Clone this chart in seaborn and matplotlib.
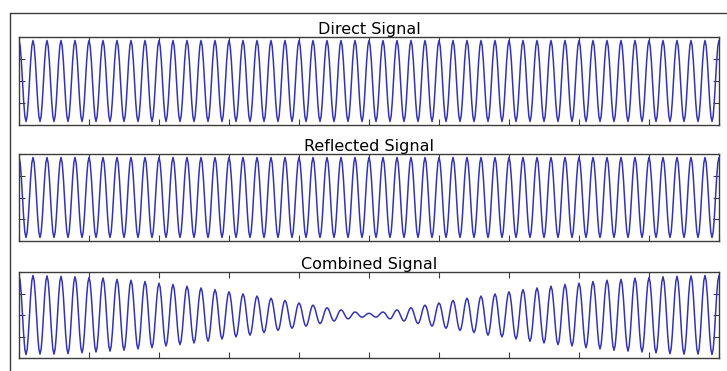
import numpy as np
import pandas as pd
import matplotlib
matplotlib.use("Agg")
import matplotlib.pyplot as plt
from matplotlib.lines import Line2D
import seaborn as sns

# titles of the three panels
titles = ["Direct Signal", "Reflected Signal", "Combined Signal"]

# number of carrier cycles across the window (peak at start and end)
n_cycles = 50

# peak / trough levels per cycle (axis range -1..1)
direct_peaks = [0.92] * (n_cycles + 1)
direct_troughs = [-0.92] * n_cycles
reflected_peaks = [0.92] * (n_cycles + 1)
reflected_troughs = [-0.92] * n_cycles

half_peaks = [0.92, 0.92, 0.91, 0.90, 0.89, 0.87, 0.86, 0.83, 0.81, 0.78, 0.74,
              0.71, 0.67, 0.63, 0.59, 0.54, 0.49, 0.44, 0.39, 0.34, 0.28, 0.23,
              0.17, 0.12, 0.07]
combined_peaks = half_peaks + [0.04] + half_peaks[::-1]
half_troughs = [-0.92, -0.91, -0.91, -0.90, -0.88, -0.86, -0.84, -0.82, -0.79,
                -0.76, -0.72, -0.69, -0.65, -0.61, -0.56, -0.51, -0.47, -0.41,
                -0.36, -0.31, -0.26, -0.20, -0.14, -0.09, -0.05]
combined_troughs = half_troughs + half_troughs[::-1]

x_ticks = [0.0, 0.1, 0.2, 0.3, 0.4, 0.5, 0.6, 0.7, 0.8, 0.9, 1.0]
y_ticks = [-0.5, 0.0, 0.5]

LINE = "#3434b0"
EDGE = "#3c3c3c"
STEPS = 6  # samples per half cycle


def build_wave(peaks, troughs):
    # join successive extremes with half-cosine segments
    ext = []
    for i in range(len(troughs)):
        ext.append(peaks[i])
        ext.append(troughs[i])
    ext.append(peaks[-1])
    n_half = len(ext) - 1
    s = np.linspace(0, 1, STEPS, endpoint=False)
    xs, ys = [], []
    for i in range(n_half):
        w = (1 - np.cos(np.pi * s)) / 2
        xs.append((i + s) / n_half)
        ys.append(ext[i] + (ext[i + 1] - ext[i]) * w)
    xs.append([1.0])
    ys.append([ext[-1]])
    return pd.DataFrame({"t": np.concatenate(xs), "v": np.concatenate(ys)})


series = [
    build_wave(direct_peaks, direct_troughs),
    build_wave(reflected_peaks, reflected_troughs),
    build_wave(combined_peaks, combined_troughs),
]

sns.set_style("white")
plt.rcParams["font.family"] = ["DejaVu Sans"]

W, H = 727, 371
fig = plt.figure(figsize=(W / 100, H / 100), dpi=100)

# axes boxes in pixels: (left, top, right, bottom)
boxes = [(19, 37, 719, 125), (19, 154, 719, 241), (19, 272, 719, 358)]

for (l, t, r, b), df, title in zip(boxes, series, titles):
    ax = fig.add_axes([l / W, 1 - b / H, (r - l) / W, (b - t) / H])
    sns.lineplot(data=df, x="t", y="v", ax=ax, color=LINE, linewidth=1.1,
                 estimator=None, sort=False)
    ax.set_xlim(0, 1)
    ax.set_ylim(-1, 1)
    ax.set_xticks(x_ticks)
    ax.set_yticks(y_ticks)
    ax.set_xticklabels([])
    ax.set_yticklabels([])
    ax.set_xlabel("")
    ax.set_ylabel("")
    ax.tick_params(direction="in", length=4, width=0.8, color=EDGE,
                   top=True, right=True, bottom=True, left=True)
    for sp in ax.spines.values():
        sp.set_visible(True)
        sp.set_color(EDGE)
        sp.set_linewidth(1.0)
    ax.set_title(title, fontsize=11.5, pad=1.5, color="black")

# outer frame of the original window (cropped on the right and bottom)
fig.add_artist(Line2D([10 / W, 1.0], [1 - 13 / H, 1 - 13 / H],
                      transform=fig.transFigure, color=EDGE, linewidth=1.0))
fig.add_artist(Line2D([10 / W, 10 / W], [1 - 13 / H, 0.0],
                      transform=fig.transFigure, color=EDGE, linewidth=1.0))

fig.savefig("out.png", dpi=100)
